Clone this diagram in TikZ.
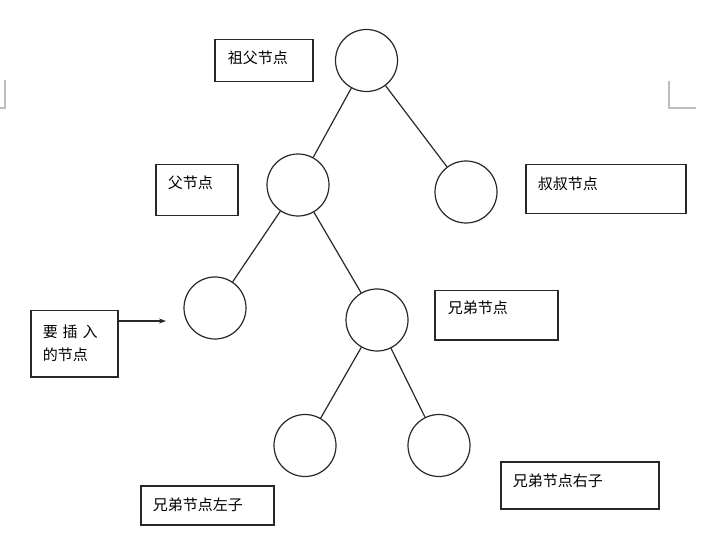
\documentclass[tikz,border=0pt]{standalone}
\usepackage{fontspec}
\newfontfamily\cjk{Noto Sans CJK SC}
\usepackage{tikz}
\usetikzlibrary{arrows.meta, positioning, calc}
\definecolor{mydark}{RGB}{40,40,40}
\definecolor{mygray}{RGB}{190,190,190}
\tikzset{
  treenode/.style={circle, draw=mydark, minimum size=62pt, inner sep=0pt,
    line width=1.2pt},
  tagbox/.style={rectangle, draw=mydark, anchor=north west, align=left,
    inner ysep=0pt, line width=1.5pt, font=\cjk\fontsize{15}{23}\selectfont},
  arrow/.style={-{Stealth[length=7pt, width=5pt]}, line width=1.2pt, color=mydark},
  line/.style={line width=1.2pt, color=mydark},
  cornermark/.style={line width=1.2pt, color=mygray}
}
\begin{document}
\begin{tikzpicture}[x=1pt, y=-1pt]
  \useasboundingbox (0,0) rectangle (725,534);

  % page corner marks
  \draw[cornermark] (5,80) -- (5,108) -- (0,108);
  \draw[cornermark] (669,81) -- (669,108) -- (696,108);

  % tree
  \node[treenode] (gp) at (366.5,60.5) {};
  \node[treenode] (par) at (298,185) {};
  \node[treenode] (unc) at (466,192) {};
  \node[treenode] (ins) at (215,308) {};
  \node[treenode] (bro) at (377,320) {};
  \node[treenode] (bl) at (305,445.5) {};
  \node[treenode] (br) at (439,445.5) {};

  \draw[line] (gp) -- (par);
  \draw[line] (gp) -- (unc);
  \draw[line] (par) -- (ins);
  \draw[line] (par) -- (bro);
  \draw[line] (bro) -- (bl);
  \draw[line] (bro) -- (br);

  % labels
  \node[tagbox, inner xsep=13pt, text width=72pt, text height=24pt, text depth=18pt] (gpbox) at (214,39) {祖父节点};
  \node[tagbox, inner xsep=12pt, text width=58pt, text height=24pt, text depth=27pt] (parbox) at (155,164) {父节点};
  \node[tagbox, inner xsep=12pt, text width=136pt, text height=25pt, text depth=24pt] (uncbox) at (525,164) {叔叔节点};
  \node[tagbox, inner xsep=13pt, text width=97pt, text height=23pt, text depth=26pt] (brobox) at (434,290) {兄弟节点};
  \node[tagbox, inner xsep=12pt, inner ysep=8pt, text width=63pt, minimum height=66pt] (insbox) at (30,310) {要 插 入\\的节点};
  \node[tagbox, inner xsep=12pt, text width=109pt, text height=25pt, text depth=14pt] (blbox) at (140,485) {兄弟节点左子};
  \node[tagbox, inner xsep=12pt, text width=134pt, text height=25pt, text depth=22pt] (brbox) at (500,461) {兄弟节点右子};

  \coordinate (instip) at (166,321);
  \draw[arrow] (insbox.east |- instip) -- (instip);
\end{tikzpicture}
\end{document}
